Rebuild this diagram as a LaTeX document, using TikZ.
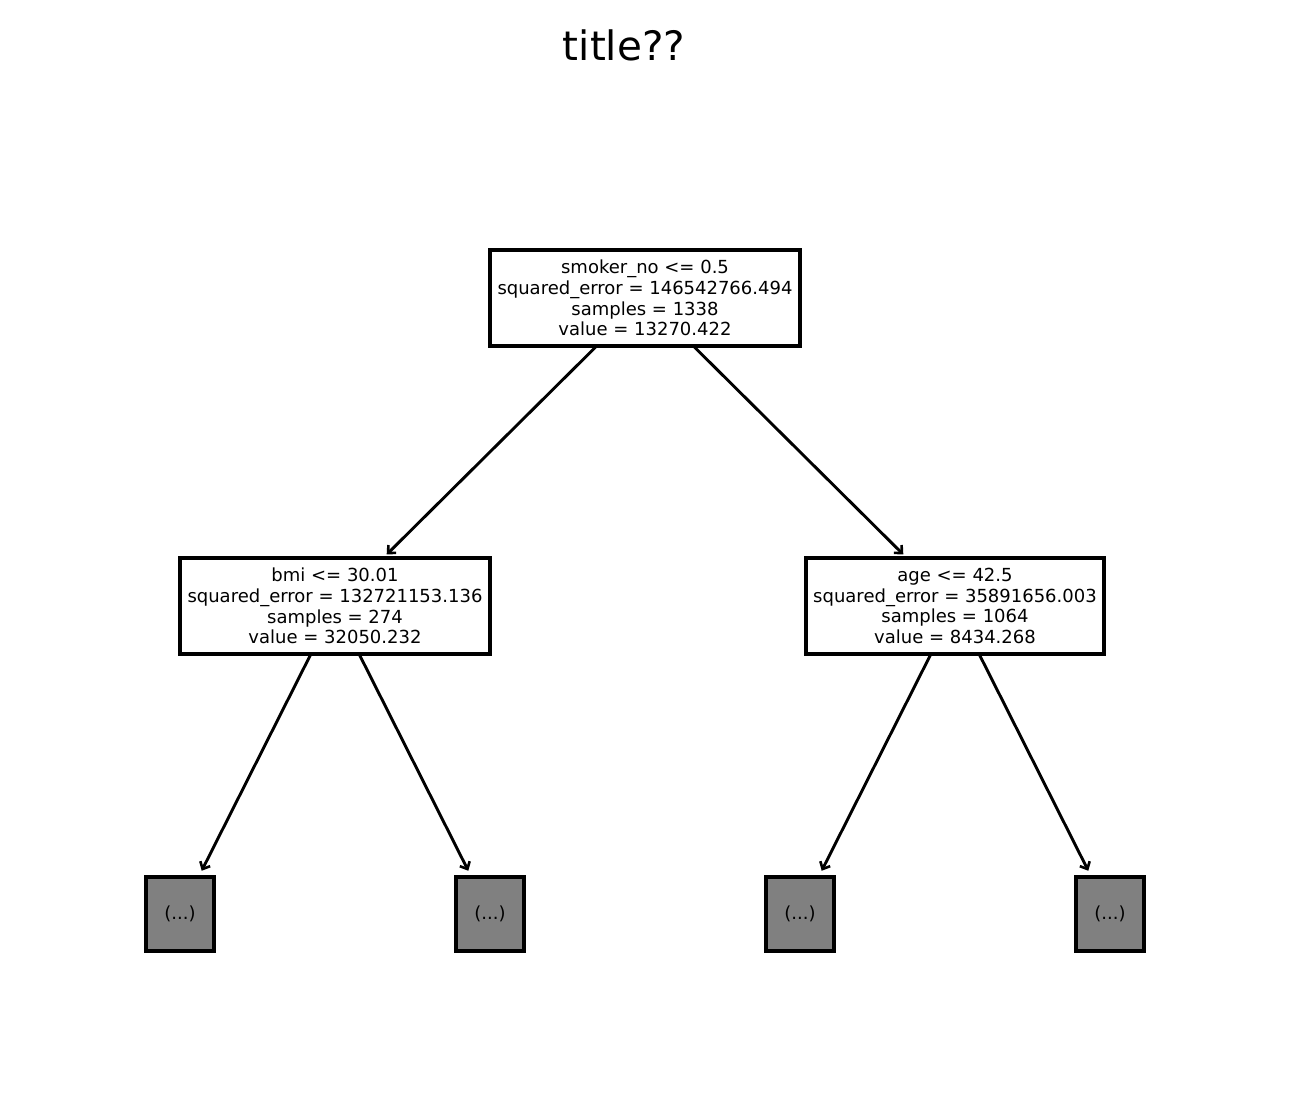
\documentclass[tikz,border=0pt]{standalone}
\usepackage{fontspec}
\setmainfont{DejaVu Sans}
\usetikzlibrary{arrows.meta}
\definecolor{leafgray}{HTML}{808080}
\begin{document}
\begin{tikzpicture}[x=1pt,y=-1pt,
  every node/.style={font=\fontsize{18}{20.7}\selectfont, inner sep=0pt, outer sep=0pt},
  splitbox/.style={draw=black, line width=3.2pt, fill=white, align=center, minimum height=96pt},
  leafbox/.style={draw=black, line width=3.2pt, fill=leafgray, minimum width=68pt, minimum height=74pt},
  edge/.style={line width=2.9pt, -{Straight Barb[length=6pt,width=11pt,line width=2.6pt]}, shorten >=5pt, shorten <=0pt}
]
\useasboundingbox (0,0) rectangle (1289,1093);
\node[font=\fontsize{40.5}{48}\selectfont] (title) at (624,45) {title??};

\node[splitbox, minimum width=310pt] (root) at (645,298)
  {smoker\_no <= 0.5\\squared\_error = 146542766.494\\samples = 1338\\value = 13270.422};
\node[splitbox, minimum width=310pt] (left) at (335,606)
  {bmi <= 30.01\\squared\_error = 132721153.136\\samples = 274\\value = 32050.232};
\node[splitbox, minimum width=298pt] (right) at (955,606)
  {age <= 42.5\\squared\_error = 35891656.003\\samples = 1064\\value = 8434.268};

\node[leafbox] (l1) at (180,914) {(...)};
\node[leafbox] (l2) at (490,914) {(...)};
\node[leafbox] (l3) at (800,914) {(...)};
\node[leafbox] (l4) at (1110,914) {(...)};

\draw[edge] (root) -- (left);
\draw[edge] (root) -- (right);
\draw[edge, shorten >=7pt] (left) -- (l1);
\draw[edge, shorten >=7pt] (left) -- (l2);
\draw[edge, shorten >=7pt] (right) -- (l3);
\draw[edge, shorten >=7pt] (right) -- (l4);
\end{tikzpicture}
\end{document}
